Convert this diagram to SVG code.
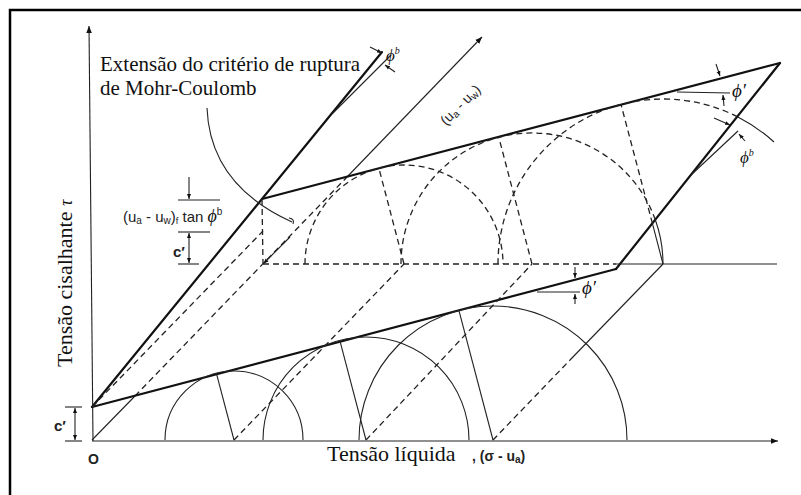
<svg xmlns="http://www.w3.org/2000/svg" width="801" height="495" viewBox="0 0 801 495">
<style>
.thick{stroke:#111;stroke-width:2.2;fill:none;stroke-linecap:round}
.thin{stroke:#222;stroke-width:1.1;fill:none}
.dash{stroke:#222;stroke-width:1.3;fill:none;stroke-dasharray:6 4}
.serif{font-family:"Liberation Serif","Times New Roman",serif;fill:#111}
.sans{font-family:"Liberation Sans",Arial,sans-serif;fill:#222}
</style>
<defs>
<marker id="ah" viewBox="0 0 10 10" refX="10" refY="5" markerWidth="7" markerHeight="7" orient="auto" markerUnits="userSpaceOnUse">
<path d="M0,1 L10,5 L0,9 Z" fill="#111"/>
</marker>
<marker id="ahs" viewBox="0 0 10 10" refX="10" refY="5" markerWidth="5" markerHeight="5" orient="auto" markerUnits="userSpaceOnUse">
<path d="M0,1 L10,5 L0,9 Z" fill="#111"/>
</marker>
</defs>
<rect width="801" height="495" fill="#fff"/>
<g id="frame">
<path d="M10,495 V10 H801" stroke="#000" stroke-width="2.5" fill="none"/>
</g>
<g id="axes">
<line x1="93" y1="441" x2="89" y2="26" class="thin" stroke-width="1.4" marker-end="url(#ah)"/>
<line x1="92" y1="441" x2="778" y2="441" class="thin" stroke-width="1.4" marker-end="url(#ah)"/>
<line x1="92" y1="440" x2="135" y2="396" class="thin"/>
<line x1="135" y1="396" x2="347" y2="177" class="dash"/>
<line x1="347" y1="177" x2="482" y2="37" class="thin" marker-end="url(#ah)"/>
</g>
<g id="envelopes">
<line x1="92" y1="407" x2="616" y2="269" class="thick"/>
<line x1="616" y1="269" x2="780" y2="63" class="thick"/>
<line x1="262" y1="199" x2="780" y2="63" class="thick"/>
<line x1="92" y1="407" x2="382" y2="52" class="thick"/>
</g>
<g id="lower-circles">
<path d="M165,440 A69,69 0 0 1 303,440" class="thin" stroke-width="1.3"/>
<path d="M263,440 A103,103 0 0 1 469,440" class="thin" stroke-width="1.3"/>
<path d="M359,440 A134,134 0 0 1 627,440" class="thin" stroke-width="1.3"/>
<line x1="234" y1="440" x2="216.4" y2="373.3" class="thin"/>
<line x1="366" y1="440" x2="339.8" y2="340.4" class="thin"/>
<line x1="493" y1="440" x2="458.9" y2="310.4" class="thin"/>
</g>
<g id="upper-circles">
<path d="M305,264 A99,99 0 0 1 503,264" class="dash"/>
<path d="M401,264 A131,131 0 0 1 655.4,220" class="dash"/>
<path d="M655.4,220 A131,131 0 0 1 663,264" class="thin"/>
<path d="M498,264 A165,165 0 0 1 737.9,117" class="dash"/>
<path d="M737.9,117 A165,165 0 0 1 774,142" class="thin"/>
<line x1="404" y1="264" x2="378.9" y2="168.2" class="dash"/>
<line x1="532" y1="264" x2="498.8" y2="137.3" class="dash"/>
<line x1="663" y1="264" x2="652.4" y2="223.4" class="thin"/>
<line x1="652.4" y1="223.4" x2="621" y2="104.4" class="dash"/>
</g>
<g id="projection-lines">
<line x1="263" y1="264" x2="616" y2="264" class="dash"/>
<line x1="616" y1="264" x2="777" y2="264" class="thin"/>
<line x1="262" y1="199" x2="263" y2="264" class="dash"/>
<line x1="92" y1="407" x2="263" y2="231" class="dash"/>
<line x1="234" y1="440" x2="404" y2="264" class="dash"/>
<line x1="366" y1="440" x2="532" y2="264" class="dash"/>
<line x1="493" y1="440" x2="570" y2="360" class="dash"/>
<line x1="570" y1="360" x2="663" y2="264" class="thin"/>
<line x1="290" y1="237" x2="263.5" y2="263.5" class="thin" stroke-width="0.8" marker-end="url(#ahs)"/>
</g>
<g id="angle-marks">
<line x1="333" y1="113" x2="391" y2="55" class="thin"/>
<line x1="370" y1="47" x2="382" y2="53" class="thin" stroke-width="0.9" marker-end="url(#ahs)"/>
<line x1="395" y1="72" x2="385" y2="65" class="thin" stroke-width="0.9" marker-end="url(#ahs)"/>
<line x1="691" y1="175" x2="738" y2="131" class="thin"/>
<line x1="714" y1="118" x2="730" y2="125" class="thin" stroke-width="0.9" marker-end="url(#ahs)"/>
<line x1="745" y1="141" x2="739" y2="134" class="thin" stroke-width="0.9" marker-end="url(#ahs)"/>
<line x1="677" y1="92" x2="730" y2="93" class="thin"/>
<line x1="716" y1="64" x2="720" y2="76" class="thin" stroke-width="0.9" marker-end="url(#ahs)"/>
<line x1="724" y1="106" x2="723" y2="95" class="thin" stroke-width="0.9" marker-end="url(#ahs)"/>
<line x1="537" y1="292" x2="580" y2="292" class="thin"/>
<line x1="575" y1="267" x2="575" y2="278" class="thin" stroke-width="0.9" marker-end="url(#ahs)"/>
<line x1="575" y1="304" x2="575" y2="294" class="thin" stroke-width="0.9" marker-end="url(#ahs)"/>
</g>
<g id="dimensions">
<line x1="189" y1="177" x2="189" y2="199" class="thin" marker-end="url(#ahs)"/>
<line x1="178" y1="200" x2="220" y2="200" class="thin"/>
<line x1="178" y1="232" x2="210" y2="232" class="thin"/>
<line x1="178" y1="264" x2="199" y2="264" class="thin"/>
<line x1="189" y1="248" x2="189" y2="233" class="thin" marker-end="url(#ahs)"/>
<line x1="189" y1="248" x2="189" y2="263" class="thin" marker-end="url(#ahs)"/>
<line x1="65" y1="407" x2="82" y2="407" class="thin"/>
<line x1="65" y1="441" x2="82" y2="441" class="thin"/>
<line x1="75" y1="424" x2="75" y2="408" class="thin" marker-end="url(#ahs)"/>
<line x1="75" y1="424" x2="75" y2="440" class="thin" marker-end="url(#ahs)"/>
</g>
<g id="leader">
<path d="M207,108 Q210,185 292,222" class="thin"/>
<path d="M289,218 q6,1 4,6" class="thin" stroke-width="0.9"/>
</g>
<g id="labels">
<text x="100" y="71" class="serif" font-size="21">Extensão do critério de ruptura</text>
<text x="100" y="95" class="serif" font-size="21">de Mohr-Coulomb</text>
<text x="386" y="61" class="serif" font-size="17" font-style="italic">ϕ<tspan font-size="10" dy="-7">b</tspan></text>
<text transform="translate(446,126) rotate(-45)" class="sans" font-size="14">(u<tspan font-size="10" dy="2">a</tspan><tspan dy="-2"> - u</tspan><tspan font-size="10" dy="2">w</tspan><tspan dy="-2">)</tspan></text>
<text x="732" y="97" class="serif" font-size="19" font-style="italic">ϕ′</text>
<text x="740" y="163" class="serif" font-size="17" font-style="italic">ϕ<tspan font-size="10" dy="-7">b</tspan></text>
<text x="582" y="294" class="serif" font-size="19" font-style="italic">ϕ′</text>
<text x="123" y="222" class="sans" font-size="15">(u<tspan font-size="10" dy="2">a</tspan><tspan dy="-2"> - u</tspan><tspan font-size="10" dy="2">w</tspan><tspan dy="-2">)</tspan><tspan font-size="9" dy="2">f</tspan><tspan dy="-2"> tan </tspan><tspan class="serif" font-style="italic" font-size="18">ϕ</tspan><tspan font-size="10" dy="-7">b</tspan></text>
<text x="173" y="257" class="sans" font-size="15" font-weight="bold">c′</text>
<text x="54" y="431" class="sans" font-size="15" font-weight="bold">c′</text>
<text x="88" y="464" class="sans" font-size="14" font-weight="bold">O</text>
<text x="327" y="461" class="serif" font-size="22">Tensão líquida</text>
<text x="472" y="461" class="sans" font-size="14" font-weight="bold">, (σ - u<tspan font-size="10" dy="2">a</tspan><tspan dy="-2">)</tspan></text>
<text transform="translate(72,367) rotate(-90)" class="serif" font-size="22">Tensão cisalhante <tspan font-style="italic" font-size="18">τ</tspan></text>
</g>
</svg>
